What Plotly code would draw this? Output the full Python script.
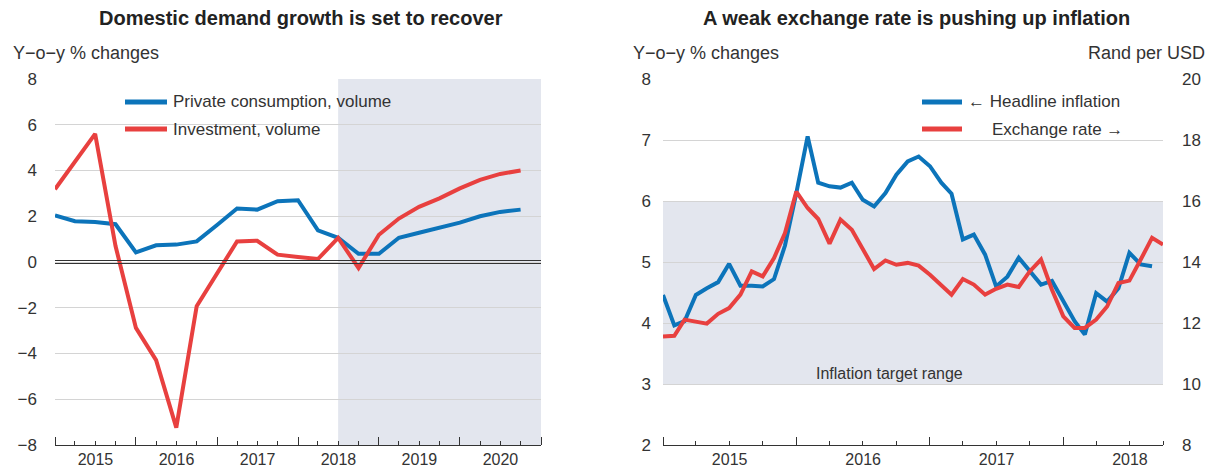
import plotly.graph_objects as go
import pandas as pd

# ---------------- data ----------------
# Left panel: quarterly, 2015Q1 .. 2020Q4
quarters = pd.date_range("2015-01-01", periods=24, freq="QS")
private_consumption = [2.04, 1.78, 1.75, 1.65,
                       0.42, 0.73, 0.76, 0.90,
                       1.62, 2.34, 2.29, 2.66,
                       2.70, 1.38, 1.06, 0.36,
                       0.36, 1.06, 1.28, 1.49,
                       1.72, 2.00, 2.19, 2.29]
investment = [3.18, 4.40, 5.60, 0.70,
              -2.88, -4.29, -7.24, -1.93,
              -0.50, 0.90, 0.93, 0.32,
              0.22, 0.13, 1.05, -0.26,
              1.19, 1.90, 2.41, 2.78,
              3.22, 3.59, 3.85, 4.00]
projection_start = "2018-07-01"
left_end = "2021-01-01"
left_yticks = [-8, -6, -4, -2, 0, 2, 4, 6, 8]
left_yticktext = ["\u22128", "\u22126", "\u22124", "\u22122", "0", "2", "4", "6", "8"]

# Right panel: monthly, Jan 2015 ..
months = pd.date_range("2015-01-01", periods=46, freq="MS")
headline_inflation = [4.46, 3.96, 4.03, 4.46, 4.57, 4.67, 4.97, 4.61, 4.61, 4.60, 4.72, 5.27,
                      6.13, 7.06, 6.30, 6.24, 6.22, 6.30, 6.02, 5.91, 6.13, 6.43, 6.65, 6.73,
                      6.57, 6.30, 6.12, 5.37, 5.45, 5.12, 4.60, 4.76, 5.07, 4.85, 4.63, 4.69,
                      4.35, 4.03, 3.81, 4.49, 4.35, 4.57, 5.15, 4.96, 4.93]
exchange_rate = [11.56, 11.58, 12.11, 12.03, 11.98, 12.30, 12.49, 12.93, 13.69, 13.53, 14.13, 14.95,
                 16.31, 15.77, 15.41, 14.60, 15.39, 15.06, 14.40, 13.77, 14.05, 13.91, 13.97, 13.88,
                 13.58, 13.22, 12.93, 13.44, 13.26, 12.93, 13.12, 13.26, 13.18, 13.69, 14.08, 13.09,
                 12.22, 11.84, 11.84, 12.11, 12.54, 13.31, 13.39, 14.08, 14.79, 14.57]
target_low, target_high = 3, 6
right_end = "2018-10-01"

# ---------------- style ----------------
W, H = 1215, 470
BLUE = "#0C74BA"
RED = "#E8403F"
SHADE = "#E3E6EE"
GRID = "#D4D4D4"
AXIS = "#333333"
TXT = "#333333"
FONT = "Liberation Sans, Arial, sans-serif"


def px(x):
    return x / W


def py(y):
    return 1 - y / H


fig = go.Figure()

fig.add_trace(go.Scatter(x=quarters, y=private_consumption, mode="lines",
                         line=dict(color=BLUE, width=4), xaxis="x", yaxis="y",
                         showlegend=False, hoverinfo="skip"))
fig.add_trace(go.Scatter(x=quarters, y=investment, mode="lines",
                         line=dict(color=RED, width=4), xaxis="x", yaxis="y",
                         showlegend=False, hoverinfo="skip"))
fig.add_trace(go.Scatter(x=months[:len(headline_inflation)], y=headline_inflation, mode="lines",
                         line=dict(color=BLUE, width=4), xaxis="x2", yaxis="y2",
                         showlegend=False, hoverinfo="skip"))
fig.add_trace(go.Scatter(x=months[:len(exchange_rate)], y=exchange_rate, mode="lines",
                         line=dict(color=RED, width=4), xaxis="x2", yaxis="y3",
                         showlegend=False, hoverinfo="skip"))

ydom = [1 - 445 / H, 1 - 79 / H]
tickfont = dict(family=FONT, size=17, color=TXT)


def xaxis_common(dom, anchor, rng):
    return dict(domain=dom, anchor=anchor, type="date", range=rng,
                showgrid=False, zeroline=False, showline=True, linecolor=AXIS, linewidth=1,
                ticks="inside", ticklen=8, tickwidth=1, tickcolor=AXIS,
                tick0="2015-01-01", dtick="M12", tickformat="%Y", ticklabelmode="period",
                minor=dict(ticks="inside", ticklen=4, tickwidth=1, tickcolor=AXIS,
                           dtick="M3", tick0="2015-01-01", showgrid=False),
                tickfont=dict(family=FONT, size=16, color=TXT),
                ticklabelstandoff=0, automargin=False, fixedrange=True)


fig.update_layout(
    width=W, height=H,
    margin=dict(l=0, r=0, t=0, b=0),
    paper_bgcolor="white", plot_bgcolor="white",
    font=dict(family=FONT, color=TXT),
    xaxis=xaxis_common([55 / W, 541 / W], "y", ["2015-01-01", left_end]),
    yaxis=dict(domain=ydom, anchor="x", range=[-8, 8], tickvals=left_yticks,
               ticktext=left_yticktext, showgrid=True, gridcolor=GRID, gridwidth=1,
               zeroline=False, showline=False, ticks="", tickfont=tickfont,
               ticklabelstandoff=17, automargin=False, fixedrange=True),
    xaxis2=xaxis_common([663 / W, 1163 / W], "y2", ["2015-01-01", right_end]),
    yaxis2=dict(domain=ydom, anchor="x2", range=[2, 8], dtick=1, tick0=2,
                showgrid=True, gridcolor=GRID, gridwidth=1, zeroline=False,
                showline=False, ticks="", tickfont=tickfont, ticklabelstandoff=11,
                automargin=False, fixedrange=True),
    yaxis3=dict(domain=ydom, anchor="x2", overlaying="y2", side="right", range=[8, 20],
                dtick=2, tick0=8, showgrid=False, zeroline=False, showline=False,
                ticks="", tickfont=tickfont, ticklabelstandoff=18,
                automargin=False, fixedrange=True),
)

shapes = [
    # projection shading (left)
    dict(type="rect", xref="x", yref="y domain", x0=projection_start, x1=left_end,
         y0=0, y1=1, fillcolor=SHADE, line=dict(width=0), layer="below"),
    # inflation target range (right)
    dict(type="rect", xref="x2 domain", yref="y2", x0=0, x1=1, y0=target_low, y1=target_high,
         fillcolor=SHADE, line=dict(width=0), layer="below"),
    # double zero line (left)
    dict(type="line", xref="x domain", yref="y", x0=0, x1=1, ysizemode="pixel", yanchor=0,
         y0=1.5, y1=1.5, line=dict(color=AXIS, width=1)),
    dict(type="line", xref="x domain", yref="y", x0=0, x1=1, ysizemode="pixel", yanchor=0,
         y0=-1.5, y1=-1.5, line=dict(color=AXIS, width=1)),
    # legend samples
    dict(type="line", xref="paper", yref="paper", x0=px(125), x1=px(167), y0=py(102), y1=py(102),
         line=dict(color=BLUE, width=5)),
    dict(type="line", xref="paper", yref="paper", x0=px(125), x1=px(167), y0=py(129), y1=py(129),
         line=dict(color=RED, width=5)),
    dict(type="line", xref="paper", yref="paper", x0=px(922), x1=px(962), y0=py(102), y1=py(102),
         line=dict(color=BLUE, width=5)),
    dict(type="line", xref="paper", yref="paper", x0=px(922), x1=px(962), y0=py(129), y1=py(129),
         line=dict(color=RED, width=5)),
]
fig.update_layout(shapes=shapes)

ann = []


def text(x, y, s, size=15, anchor="left", bold=False, color=TXT):
    ann.append(dict(xref="paper", yref="paper", x=px(x), y=py(y), text=("<b>%s</b>" % s) if bold else s,
                    showarrow=False, xanchor=anchor, yanchor="middle",
                    font=dict(family=FONT, size=size, color=color)))


text(301, 18, "Domestic demand growth is set to recover", size=20, anchor="center", bold=True, color="#222222")
text(916, 18, "A weak exchange rate is pushing up inflation", size=20, anchor="center", bold=True, color="#222222")
text(11, 53, "Y\u2212o\u2212y % changes", size=18)
text(631, 53, "Y\u2212o\u2212y % changes", size=18)
text(1207, 53, "Rand per USD", size=18, anchor="right")
text(171, 102, "Private consumption, volume", size=17)
text(171, 129, "Investment, volume", size=17)
text(966, 102, "\u2190 Headline inflation", size=17)
text(990, 129, "Exchange rate \u2192", size=17)
text(889, 373, "Inflation target range", size=16, anchor="center")
fig.update_layout(annotations=ann)

fig.write_html("out.html", config={"displayModeBar": False},
               post_script="document.body.style.margin='0';document.body.style.overflow='hidden';")
